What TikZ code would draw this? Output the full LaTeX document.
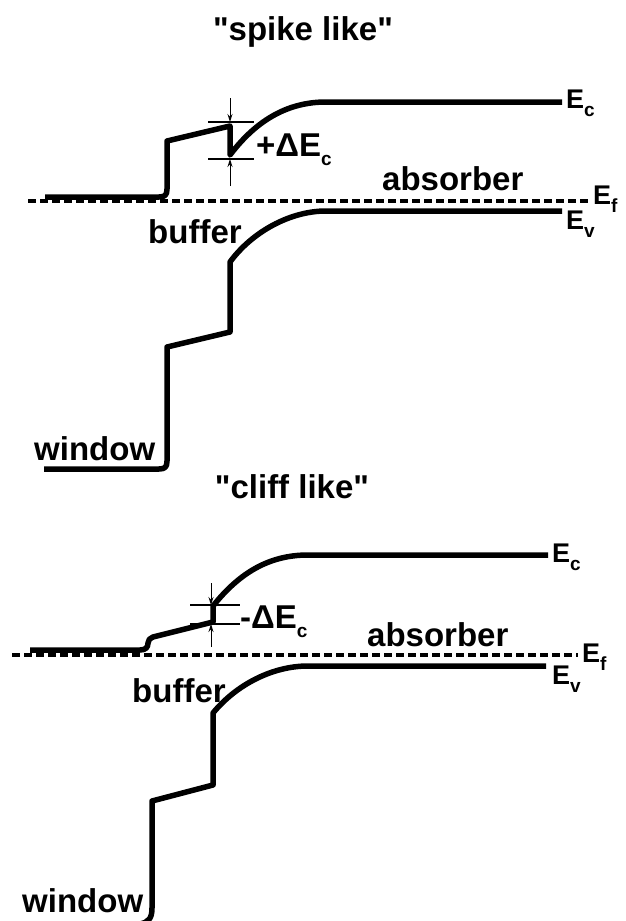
\documentclass[tikz,border=0pt]{standalone}
\usepackage{fontspec}
\setmainfont{Liberation Sans}[Ligatures=TeXOff]
\usetikzlibrary{arrows.meta}
\newcommand{\Esub}[1]{E\raisebox{-0.3em}{\fontsize{19}{21}\selectfont #1}}
\begin{document}
\begin{tikzpicture}[x=1pt,y=-1pt,
  band/.style={line width=5.5pt, line join=round},
  fermi/.style={line width=3.5pt, dash pattern=on 8pt off 4pt},
  tickln/.style={line width=1.3pt},
  marrow/.style={line width=1pt, -{Stealth[length=8pt,width=5pt]}},
  lbl/.style={font=\fontsize{33}{38}\selectfont\bfseries, inner sep=0pt, anchor=base west},
  ttl/.style={font=\fontsize{33}{38}\selectfont\bfseries, inner sep=0pt, anchor=base},
  elbl/.style={font=\fontsize{27}{31}\selectfont\bfseries, inner sep=0pt, anchor=base west},
]
\useasboundingbox (0,0) rectangle (626,921);
\clip (0,0) rectangle (626,921);

% ---------------- spike like ----------------
\node[ttl] (t1) at (303,40) {"spike like"};
\coordinate (f1a) at (28,201);
\coordinate (f1b) at (590,201);
\draw[fermi] (f1a) -- (f1b);
\draw[band] (45,197) -- (159,197) .. controls (165,197) and (167,195) .. (167,189)
  -- (167,141) -- (230,126) -- (230,155)
  .. controls (258,118) and (290,102) .. (326,102) -- (562,102);
\draw[band] (562,211) -- (326,211) .. controls (290,211) and (252,232) .. (230,262)
  -- (230,332) -- (167,347) -- (167,461)
  .. controls (167,467) and (165,469) .. (159,469) -- (44,469);
% delta Ec markers
\coordinate (u1) at (230,122);
\coordinate (l1) at (230,159);
\draw[tickln] (208,122) -- (254,122);
\draw[tickln] (208,159) -- (254,159);
\draw[marrow] (230,98) -- (u1);
\draw[marrow] (230,186) -- (l1);
\node[lbl] (d1) at (256,156) {+Δ\Esub{c}};
\node[lbl] (ab1) at (382,190) {absorber};
\node[lbl] (bu1) at (148,243) {buffer};
\node[lbl] (wi1) at (34,460) {window};
\node[elbl] (ec1) at (566,108) {\Esub{c}};
\node[elbl] (ef1) at (593,204) {\Esub{f}};
\node[elbl] (ev1) at (566,229) {\Esub{v}};

% ---------------- cliff like ----------------
\node[ttl] (t2) at (292,498) {"cliff like"};
\coordinate (f2a) at (12,655);
\coordinate (f2b) at (578,655);
\draw[fermi] (f2a) -- (f2b);
\draw[band] (30,650) -- (140,650) .. controls (146,650) and (148,647) .. (148,643)
  .. controls (148,640) and (150,638) .. (153,637) -- (213,622) -- (213,606)
  .. controls (240,572) and (270,555) .. (308,555) -- (548,555);
\draw[band] (546,666) -- (308,666) .. controls (272,666) and (236,685) .. (213,713)
  -- (213,785) -- (152,801) -- (152,908)
  .. controls (152,918) and (149,922) .. (140,924) -- (20,924);
\coordinate (u2) at (211,605);
\coordinate (l2) at (211,624);
\draw[tickln] (190,605) -- (240,605);
\draw[tickln] (190,624) -- (240,624);
\draw[marrow] (211,583) -- (u2);
\draw[marrow] (211,647) -- (l2);
\node[lbl] (d2) at (240,628) {-Δ\Esub{c}};
\node[lbl] (ab2) at (367,646) {absorber};
\node[lbl] (bu2) at (132,702) {buffer};
\node[lbl] (wi2) at (22,912) {window};
\node[elbl] (ec2) at (552,562) {\Esub{c}};
\node[elbl] (ef2) at (582,662) {\Esub{f}};
\node[elbl] (ev2) at (552,684) {\Esub{v}};
\end{tikzpicture}
\end{document}
